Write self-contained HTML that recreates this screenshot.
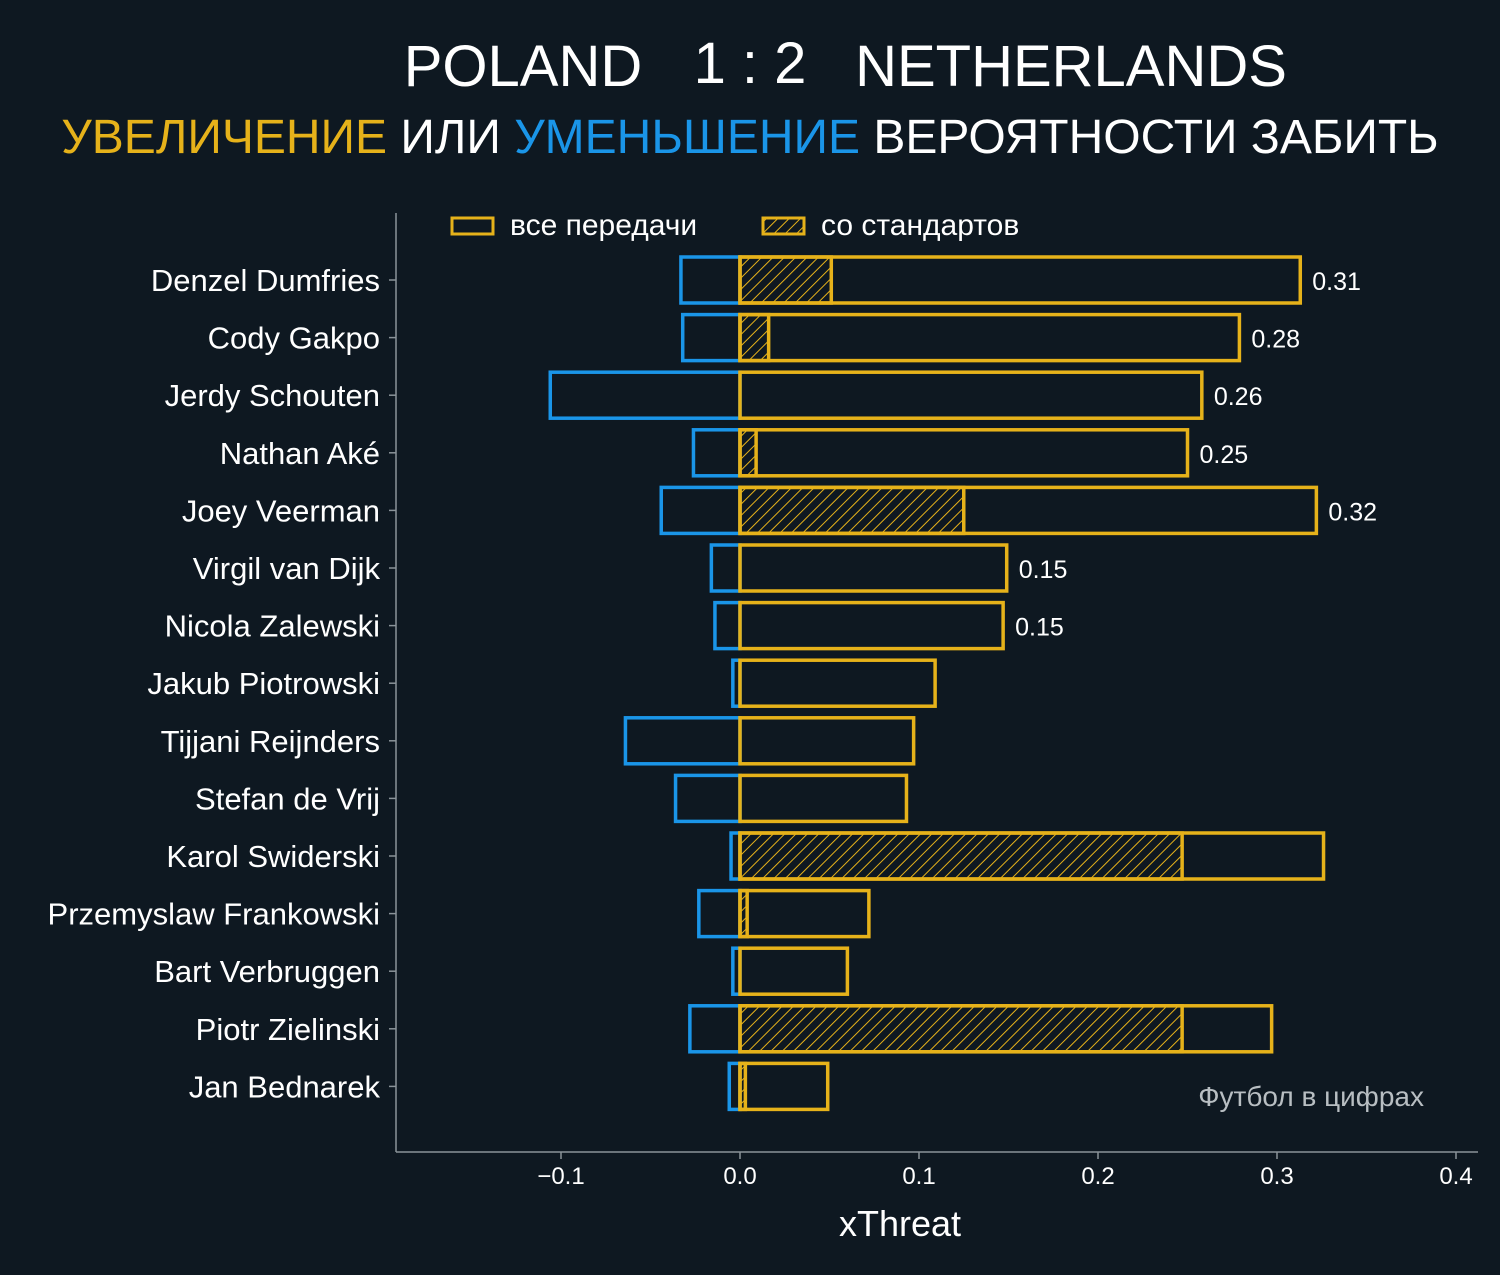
<!DOCTYPE html>
<html><head><meta charset="utf-8"><style>
html,body{margin:0;padding:0;background:#0e1821;}
svg{display:block;font-family:"Liberation Sans","DejaVu Sans",sans-serif;}
</style></head><body>
<svg id="c" width="1500" height="1275" viewBox="0 0 1500 1275">
<defs>
<pattern id="hatch" patternUnits="userSpaceOnUse" width="8" height="8" patternTransform="rotate(45)">
<line x1="0" y1="0" x2="0" y2="8" stroke="#e6b21a" stroke-width="2"/>
</pattern>
</defs>
<rect width="1500" height="1275" fill="#0e1821"/>
<g>
<text x="523" y="86" font-size="58" fill="#fff" text-anchor="middle">POLAND</text>
<text x="750" y="83" font-size="58" fill="#fff" text-anchor="middle">1 : 2</text>
<text x="1071" y="86" font-size="58" fill="#fff" text-anchor="middle">NETHERLANDS</text>
</g>
<text x="750" y="153" font-size="48" text-anchor="middle"><tspan fill="#e6b21a">УВЕЛИЧЕНИЕ</tspan><tspan fill="#fff"> ИЛИ </tspan><tspan fill="#1a95e8">УМЕНЬШЕНИЕ</tspan><tspan fill="#fff"> ВЕРОЯТНОСТИ ЗАБИТЬ</tspan></text>
<g>
<rect x="452" y="218" width="41" height="16" fill="none" stroke="#e6b21a" stroke-width="3"/>
<text x="510" y="235" font-size="30" fill="#fff">все передачи</text>
<rect x="763" y="218" width="41" height="16" fill="url(#hatch)" stroke="#e6b21a" stroke-width="3"/>
<text x="821" y="235" font-size="30" fill="#fff">со стандартов</text>
</g>
<line x1="396" y1="213" x2="396" y2="1152" stroke="#8a9399" stroke-width="1.5"/>
<line x1="396" y1="1152" x2="1478" y2="1152" stroke="#8a9399" stroke-width="1.5"/>
<text x="900" y="1236" font-size="36" fill="#fff" text-anchor="middle">xThreat</text>
<text x="1424" y="1106" font-size="28" fill="#b8bec2" text-anchor="end">Футбол в цифрах</text>
<g id="bars"></g>
</svg>
<script>
const players = ["Denzel Dumfries","Cody Gakpo","Jerdy Schouten","Nathan Aké","Joey Veerman","Virgil van Dijk","Nicola Zalewski","Jakub Piotrowski","Tijjani Reijnders","Stefan de Vrij","Karol Swiderski","Przemyslaw Frankowski","Bart Verbruggen","Piotr Zielinski","Jan Bednarek"];
const positive = [0.313,0.279,0.258,0.250,0.322,0.149,0.147,0.109,0.097,0.093,0.326,0.072,0.060,0.297,0.049];
const negative = [-0.033,-0.032,-0.106,-0.026,-0.044,-0.016,-0.014,-0.004,-0.064,-0.036,-0.005,-0.023,-0.004,-0.028,-0.006];
const setPiece = [0.051,0.016,0,0.009,0.125,0,0,0,0,0,0.247,0.004,0,0.247,0.003];
const valueLabels = ["0.31","0.28","0.26","0.25","0.32","0.15","0.15","","","","","","","",""];
const xTicks = [-0.1,0,0.1,0.2,0.3,0.4];
const xTickLabels = ["\u22120.1","0.0","0.1","0.2","0.3","0.4"];

const NS="http://www.w3.org/2000/svg";
const g=document.getElementById('bars');
const x=v=>740+v*1790;
const y=i=>280+i*57.6;
const H=46;
function mk(tag,attrs,parent){const e=document.createElementNS(NS,tag);for(const k in attrs)e.setAttribute(k,attrs[k]);(parent||g).appendChild(e);return e;}

xTicks.forEach((t,i)=>{
  const l=mk('line',{x1:x(t),x2:x(t),y1:1152,y2:1159,stroke:'#8a9399','stroke-width':1.5});
  
  
  const tx=mk('text',{x:x(t),y:1184,'font-size':24,fill:'#fff','text-anchor':'middle'});
  tx.textContent=xTickLabels[i];
  
  
});

players.forEach((p,i)=>{
  const cy=y(i);
  const tk=mk('line',{x1:389,x2:396,y1:cy,y2:cy,stroke:'#8a9399','stroke-width':1.5});
  
  
  const lb=mk('text',{x:380,y:cy+11,'font-size':31,fill:'#fff','text-anchor':'end'});
  lb.textContent=p;
  
  
  const nb=mk('rect',{x:x(negative[i]),y:cy-H/2,width:x(0)-x(negative[i]),height:H,fill:'none',stroke:'#1a95e8','stroke-width':3.5});
  
  
  if(setPiece[i]>0){
    const hb=mk('rect',{x:x(0),y:cy-H/2,width:x(setPiece[i])-x(0),height:H,fill:'url(#hatch)',stroke:'#e6b21a','stroke-width':3.5});
    
    
  }
  const pb=mk('rect',{x:x(0),y:cy-H/2,width:x(positive[i])-x(0),height:H,fill:'none',stroke:'#e6b21a','stroke-width':3.5});
  
  
  if(valueLabels[i]){
    const vl=mk('text',{x:x(positive[i])+12,y:cy+10,'font-size':25,fill:'#fff'});
    vl.textContent=valueLabels[i];
    
    
  }
});
</script>
</body></html>
